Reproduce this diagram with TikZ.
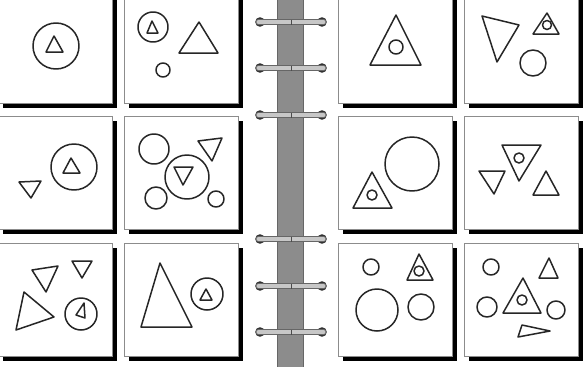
\documentclass[tikz,border=0pt]{standalone}
\usepackage{tikz}

\begin{document}
\begin{tikzpicture}[
  x=1pt, y=-1pt,
  panel/.style={draw=black!45, line width=0.8pt, fill=white},
  shade/.style={fill=black},
  fig/.style={draw=black!85, line width=1.5pt, line join=round},
  spine/.style={draw=black!60, line width=0.8pt, fill=black!45},
  wire/.style={draw=black!60, line width=0.7pt, fill=black!22, rounded corners=2.5pt},
  knob/.style={fill=black!80},
]
  \useasboundingbox (0,0) rectangle (584,367);
  \fill[white] (0,0) rectangle (584,367);
  % binder spine
  \draw[spine] (277,-2) rectangle (303,369);
  % cards with drop shadow
  \foreach \px in {-2,124,338,464}
    \foreach \py in {-10,116,243} {
      \fill[shade] (\px+5,\py+5) rectangle ++(114,113);
      \draw[panel] (\px,\py) rectangle ++(114,113);
    }
  % rings
  \foreach \ry in {22,68,115,239,286,332} {
    \fill[knob] (260,\ry) circle[radius=4.8pt] (322,\ry) circle[radius=4.8pt];
    \draw[wire] (256,\ry-2.5) rectangle (326,\ry+2.5);
    \draw[black!70, line width=0.8pt] (291.5,\ry-2.5) -- (291.5,\ry+2.5);
  }
  % left page, row 1
  \draw[fig] (56,46) circle[radius=23pt];
  \draw[fig] (54,36) -- (46,52) -- (63,52) -- cycle;
  \draw[fig] (153,27) circle[radius=15pt];
  \draw[fig] (152,21) -- (147,33) -- (158,33) -- cycle;
  \draw[fig] (199,22) -- (179,53) -- (218,53) -- cycle;
  \draw[fig] (163,70) circle[radius=7pt];
  % left page, row 2
  \draw[fig] (19,182) -- (41,181) -- (31,198) -- cycle;
  \draw[fig] (74,167) circle[radius=23pt];
  \draw[fig] (71,158) -- (63,173) -- (80,173) -- cycle;
  \draw[fig] (154,149) circle[radius=15pt];
  \draw[fig] (187,177) circle[radius=22pt];
  \draw[fig] (174,167) -- (193,167) -- (183,185) -- cycle;
  \draw[fig] (198,141) -- (222,138) -- (212,161) -- cycle;
  \draw[fig] (156,198) circle[radius=11pt];
  \draw[fig] (216,199) circle[radius=8pt];
  % left page, row 3
  \draw[fig] (32,270) -- (58,266) -- (46,292) -- cycle;
  \draw[fig] (72,261) -- (92,261) -- (82,278) -- cycle;
  \draw[fig] (24,292) -- (54,317) -- (16,330) -- cycle;
  \draw[fig] (81,314) circle[radius=16pt];
  \draw[fig] (84,303) -- (85,318) -- (76,315) -- cycle;
  \draw[fig] (160,263) -- (141,327) -- (192,327) -- cycle;
  \draw[fig] (207,294) circle[radius=16pt];
  \draw[fig] (206,289) -- (200,300) -- (212,300) -- cycle;
  % right page, row 1
  \draw[fig] (396,15) -- (370,65) -- (421,65) -- cycle;
  \draw[fig] (396,47) circle[radius=7pt];
  \draw[fig] (482,16) -- (519,25) -- (497,62) -- cycle;
  \draw[fig] (547,13) -- (533,34) -- (559,34) -- cycle;
  \draw[fig] (547,25) circle[radius=4.5pt];
  \draw[fig] (533,63) circle[radius=13pt];
  % right page, row 2
  \draw[fig] (412,164) circle[radius=27pt];
  \draw[fig] (372,172) -- (353,208) -- (392,208) -- cycle;
  \draw[fig] (372,195) circle[radius=5pt];
  \draw[fig] (479,171) -- (505,171) -- (494,194) -- cycle;
  \draw[fig] (502,145) -- (541,145) -- (519,181) -- cycle;
  \draw[fig] (519,158) circle[radius=5pt];
  \draw[fig] (546,171) -- (533,195) -- (559,195) -- cycle;
  % right page, row 3
  \draw[fig] (371,267) circle[radius=8pt];
  \draw[fig] (419,254) -- (407,280) -- (433,280) -- cycle;
  \draw[fig] (419,271) circle[radius=5pt];
  \draw[fig] (377,310) circle[radius=21pt];
  \draw[fig] (421,307) circle[radius=13pt];
  \draw[fig] (491,267) circle[radius=8pt];
  \draw[fig] (549,258) -- (539,278) -- (558,278) -- cycle;
  \draw[fig] (523,278) -- (503,313) -- (541,313) -- cycle;
  \draw[fig] (522,300) circle[radius=5pt];
  \draw[fig] (487,307) circle[radius=10pt];
  \draw[fig] (556,310) circle[radius=9pt];
  \draw[fig] (522,325) -- (550,331) -- (518,337) -- cycle;
\end{tikzpicture}
\end{document}
